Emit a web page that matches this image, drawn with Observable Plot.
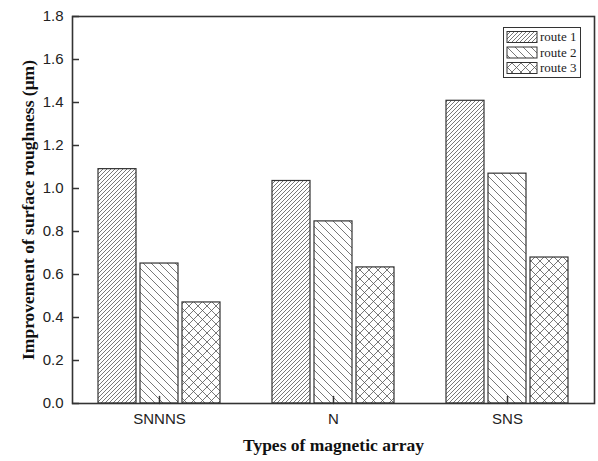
<!DOCTYPE html>
<html>
<head>
<meta charset="utf-8">
<script src="https://cdn.jsdelivr.net/npm/d3@7"></script>
<script src="https://cdn.jsdelivr.net/npm/@observablehq/plot@0.6"></script>
<style>
  html, body { margin: 0; padding: 0; background: #fff; }
  #wrap { position: relative; width: 598px; height: 461px; }
  #legend { position: absolute; left: 503px; top: 27px; }
</style>
</head>
<body>
<div id="wrap"></div>
<script>
const categories = ["SNNNS", "N", "SNS"];
const routes = ["route 1", "route 2", "route 3"];
const route1 = [1.09, 1.035, 1.408];
const route2 = [0.651, 0.847, 1.069];
const route3 = [0.470, 0.633, 0.679];
const yTicks = [0, 0.2, 0.4, 0.6, 0.8, 1.0, 1.2, 1.4, 1.6, 1.8];
const xLabel = "Types of magnetic array";
const yLabel = "Improvement of surface roughness (\u03bcm)";

const series = [route1, route2, route3];
const table = routes.flatMap((r, i) => categories.map((c, j) => ({route: r, cat: c, value: series[i][j]})));

const patternIds = ["p1", "p2", "p3"];
const insets = [[26, 110], [68, 68], [110, 26]];

const barMarks = routes.map((r, i) =>
  Plot.barY(table.filter(d => d.route === r), {
    x: "cat", y: "value", fill: `url(#${patternIds[i]})`,
    stroke: "#333", strokeWidth: 1.2,
    insetLeft: insets[i][0], insetRight: insets[i][1]
  })
);

const tickShape = {draw(context, l) { context.moveTo(0, 0); context.lineTo(0, -l); }};
const W = 598, H = 461, ML = 72, MR = 4, MT = 16, MB = 58;

const chart = Plot.plot({
  width: W, height: H,
  marginLeft: ML, marginRight: MR, marginTop: MT, marginBottom: MB,
  style: {fontFamily: "'Liberation Sans', Arial, sans-serif", fontSize: "15px", color: "#222", background: "#fff", overflow: "visible"},
  x: {type: "band", domain: categories, padding: 0},
  y: {domain: [0, 1.8]},
  marks: [
    ...barMarks,
    Plot.frame({stroke: "#333", strokeWidth: 1.6}),
    Plot.tickY(yTicks, {y: d => d, insetRight: (W - ML - MR) - 7, stroke: "#333", strokeWidth: 1.5}),
    Plot.vector(categories, {x: d => d, frameAnchor: "bottom", rotate: 0, length: 7, anchor: "start", shape: tickShape, stroke: "#333", strokeWidth: 1.5}),
    Plot.axisY({ticks: yTicks, tickSize: 0, tickPadding: 9, tickFormat: d3.format(".1f"), label: null, fontSize: 15}),
    Plot.axisX({tickSize: 0, tickPadding: 10, label: null, fontSize: 15}),
    Plot.text([xLabel], {text: d => d, frameAnchor: "bottom", dy: 47, textAnchor: "middle", fontFamily: "'Liberation Serif', 'Times New Roman', serif", fontWeight: "bold", fontSize: 17.5, fill: "#111"}),
    Plot.text([yLabel], {text: d => d, frameAnchor: "left", dx: -44, rotate: -90, textAnchor: "middle", lineAnchor: "middle", fontFamily: "'Liberation Serif', 'Times New Roman', serif", fontWeight: "bold", fontSize: 17.5, fill: "#111"})
  ]
});

// pattern definitions
const defs = d3.select(chart).insert("defs", ":first-child");
const pat = (id, size, path) => {
  const p = defs.append("pattern").attr("id", id).attr("patternUnits", "userSpaceOnUse")
    .attr("width", size).attr("height", size);
  p.append("rect").attr("width", size).attr("height", size).attr("fill", "#fff");
  p.append("path").attr("d", path).attr("stroke", "#555").attr("stroke-width", 0.8).attr("fill", "none");
};
pat("p1", 4, "M0,4L4,0M-1,1L1,-1M3,5L5,3");
pat("p2", 8, "M0,0L8,8M-2,6L2,10M6,-2L10,2");
pat("p3", 9, "M0,0L9,9M-2,7L2,11M7,-2L11,2M0,9L9,0M-2,2L2,-2M7,11L11,7");

const wrap = document.getElementById("wrap");
wrap.appendChild(chart);

// legend
const lg = d3.select(wrap).append("div").attr("id", "legend");
const lsvg = lg.append("svg").attr("width", 78).attr("height", 51).style("display", "block");
lsvg.append("rect").attr("x", 0.5).attr("y", 0.5).attr("width", 77).attr("height", 50)
  .attr("fill", "#fff").attr("stroke", "#333").attr("stroke-width", 1);
routes.forEach((r, i) => {
  const y = 4 + i * 15.5;
  lsvg.append("rect").attr("x", 4).attr("y", y + 0.5).attr("width", 30).attr("height", 11)
    .attr("fill", `url(#${patternIds[i]})`).attr("stroke", "#333").attr("stroke-width", 1);
  lsvg.append("text").attr("x", 37).attr("y", y + 10).text(r)
    .attr("font-family", "'Liberation Serif', 'Times New Roman', serif").attr("font-size", 13).attr("fill", "#222");
});
</script>
</body>
</html>
